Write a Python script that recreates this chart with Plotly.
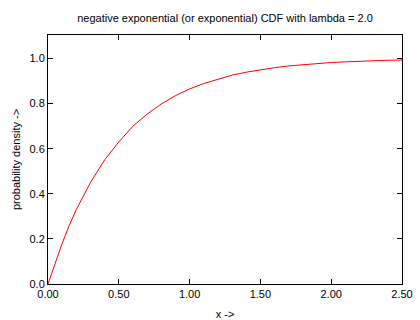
import plotly.graph_objects as go

x_vals = [0.0, 0.05, 0.1, 0.15, 0.2, 0.25, 0.3, 0.35, 0.4, 0.5, 0.6, 0.7, 0.8, 0.9, 1.0,
          1.1, 1.2, 1.3, 1.4, 1.5, 1.6, 1.7, 1.8, 1.9, 2.0, 2.1, 2.2, 2.3, 2.4, 2.5]
cdf_vals = [0.0, 0.095, 0.18, 0.26, 0.33, 0.39, 0.45, 0.50, 0.55, 0.63, 0.70, 0.753, 0.798,
            0.835, 0.865, 0.889, 0.909, 0.926, 0.939, 0.950, 0.959, 0.967, 0.973, 0.978,
            0.982, 0.985, 0.988, 0.990, 0.992, 0.993]
x_ticks = [0, 0.5, 1.0, 1.5, 2.0, 2.5]
x_tick_labels = ["0.00", "0.50", "1.00", "1.50", "2.00", "2.50"]
y_ticks = [0, 0.2, 0.4, 0.6, 0.8, 1.0]
y_tick_labels = ["0.0", "0.2", "0.4", "0.6", "0.8", "1.0"]

fig = go.Figure(go.Scatter(x=x_vals, y=cdf_vals, mode="lines",
                           line=dict(color="red", width=1), showlegend=False))

font = dict(family="Liberation Sans, Arial, sans-serif", size=11, color="black")
axis_common = dict(showline=True, linecolor="black", linewidth=1, mirror="ticks",
                   ticks="inside", ticklen=5, tickcolor="black", showgrid=False,
                   zeroline=False, tickfont=font, automargin=False)
fig.update_layout(
    width=420, height=320,
    margin=dict(l=48, r=18, t=35, b=36),
    paper_bgcolor="white", plot_bgcolor="white",
    font=font,
    title=dict(text="negative exponential (or exponential) CDF with lambda = 2.0",
               x=0.5, xref="paper", y=1 - 18 / 320, yref="container", yanchor="middle",
               font=dict(size=11), xanchor="center", automargin=False),
    xaxis=dict(range=[0, 2.5], tickvals=x_ticks, ticktext=x_tick_labels,
               title=dict(text="x ->", font=font, standoff=13), **axis_common),
    yaxis=dict(range=[0, 1.104], tickvals=y_ticks, ticktext=y_tick_labels,
               title=dict(text="probability density ->", font=font, standoff=6), **axis_common),
)
fig.write_html("out.html", post_script="document.body.style.margin='0';",
               config={"displayModeBar": False})
